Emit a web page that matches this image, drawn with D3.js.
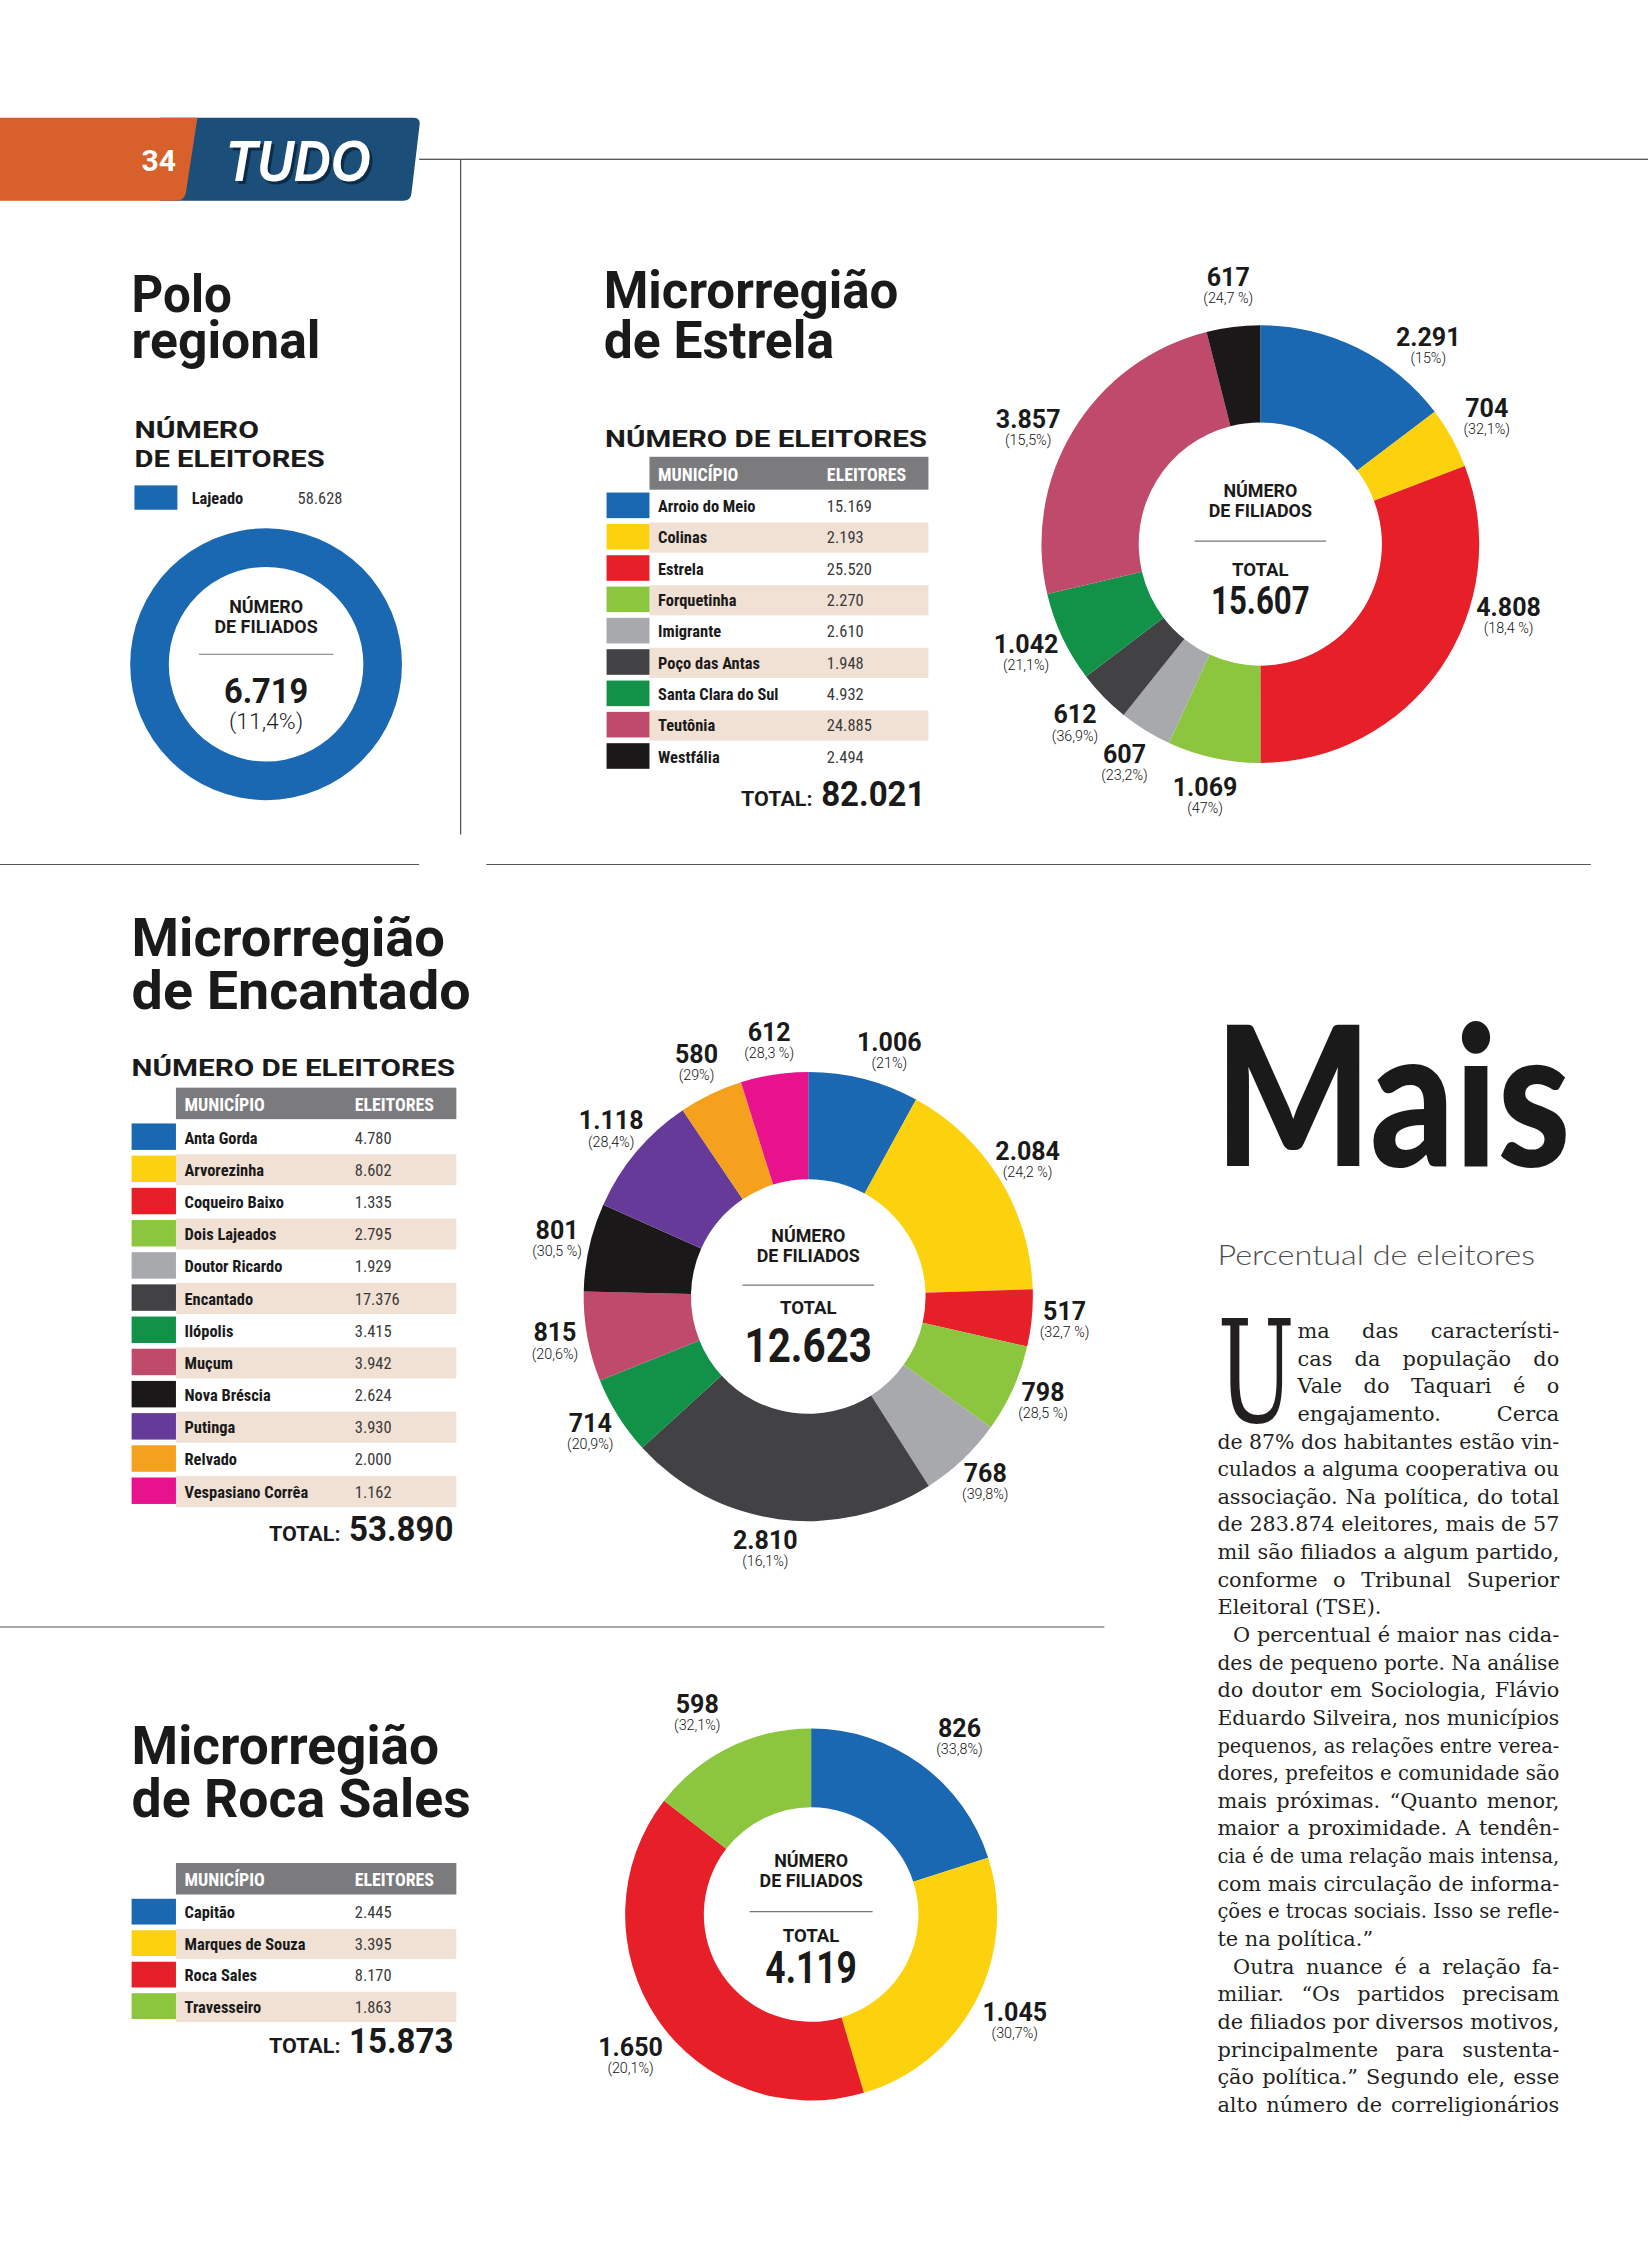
<!DOCTYPE html>
<html lang="pt-BR">
<head>
<meta charset="utf-8">
<title>Filiados - Vale do Taquari</title>
<script src="https://cdn.jsdelivr.net/npm/d3@7"></script>
<style>
  html, body { margin: 0; padding: 0; background: #fff; }
  svg { display: block; }
</style>
</head>
<body>
<svg id="page"></svg>
<script>
// dados
const poloMunicipios = ["Lajeado"];
const poloEleitores = [58628];
const poloFiliados = [6719];
const poloPct = ["11,4%"];

const estrelaMunicipios = ["Arroio do Meio", "Colinas", "Estrela", "Forquetinha", "Imigrante",
  "Poço das Antas", "Santa Clara do Sul", "Teutônia", "Westfália"];
const estrelaEleitores = [15169, 2193, 25520, 2270, 2610, 1948, 4932, 24885, 2494];
const estrelaFiliados = [2291, 704, 4808, 1069, 607, 612, 1042, 3857, 617];
const estrelaPct = ["15%", "32,1%", "18,4 %", "47%", "23,2%", "36,9%", "21,1%", "15,5%", "24,7 %"];

const encantadoMunicipios = ["Anta Gorda", "Arvorezinha", "Coqueiro Baixo", "Dois Lajeados",
  "Doutor Ricardo", "Encantado", "Ilópolis", "Muçum", "Nova Bréscia", "Putinga", "Relvado",
  "Vespasiano Corrêa"];
const encantadoEleitores = [4780, 8602, 1335, 2795, 1929, 17376, 3415, 3942, 2624, 3930, 2000, 1162];
const encantadoFiliados = [1006, 2084, 517, 798, 768, 2810, 714, 815, 801, 1118, 580, 612];
const encantadoPct = ["21%", "24,2 %", "32,7 %", "28,5 %", "39,8%", "16,1%", "20,9%", "20,6%",
  "30,5 %", "28,4%", "29%", "28,3 %"];

const rocaMunicipios = ["Capitão", "Marques de Souza", "Roca Sales", "Travesseiro"];
const rocaEleitores = [2445, 3395, 8170, 1863];
const rocaFiliados = [826, 1045, 1650, 598];
const rocaPct = ["33,8%", "30,7%", "20,1%", "32,1%"];

const artigo = [
  ["ma das característi-", "cas da população do", "Vale do Taquari é o", "engajamento. Cerca",
   "de 87% dos habitantes estão vin-", "culados a alguma cooperativa ou",
   "associação. Na política, do total", "de 283.874 eleitores, mais de 57",
   "mil são filiados a algum partido,", "conforme o Tribunal Superior", "Eleitoral (TSE)."],
  ["O percentual é maior nas cida-", "des de pequeno porte. Na análise",
   "do doutor em Sociologia, Flávio", "Eduardo Silveira, nos municípios",
   "pequenos, as relações entre verea-", "dores, prefeitos e comunidade são",
   "mais próximas. “Quanto menor,", "maior a proximidade. A tendên-",
   "cia é de uma relação mais intensa,", "com mais circulação de informa-",
   "ções e trocas sociais. Isso se refle-", "te na política.”"],
  ["Outra nuance é a relação fa-", "miliar. “Os partidos precisam",
   "de filiados por diversos motivos,", "principalmente para sustenta-",
   "ção política.” Segundo ele, esse", "alto número de correligionários"]
];

// cores
const cor = {
  azul: "#1a67b2", amarelo: "#fcd20f", vermelho: "#e71f28", lima: "#8cc63f",
  prata: "#a8a9ad", grafite: "#424244", verde: "#119248", rosa: "#c04a6b",
  preto: "#1b1819", roxo: "#663a98", laranja: "#f6a11d", magenta: "#e8128c"
};
const estrelaCores = [cor.azul, cor.amarelo, cor.vermelho, cor.lima, cor.prata, cor.grafite, cor.verde, cor.rosa, cor.preto];
const encantadoCores = estrelaCores.concat([cor.roxo, cor.laranja, cor.magenta]);
const rocaCores = [cor.azul, cor.amarelo, cor.vermelho, cor.lima];

const SANS = "Roboto, 'Liberation Sans', sans-serif";
const NARROW = "'Liberation Sans Narrow', 'Roboto Condensed', Roboto, sans-serif";
const SERIF = "'DejaVu Serif', 'Liberation Serif', serif";

const fmt = d3.formatLocale({decimal: ",", thousands: ".", grouping: [3], currency: ["", ""]}).format(",d");

const W = 1152, H = 1568;
const svg = d3.select("#page")
  .attr("width", 1648).attr("height", 2244)
  .attr("viewBox", `0 0 ${W} ${H}`);

function txt(g, x, y, s, o = {}) {
  const t = g.append("text").attr("x", x).attr("y", y).text(s)
    .attr("font-family", o.family || SANS)
    .attr("font-size", o.size || 12)
    .attr("font-weight", o.weight || 400)
    .attr("fill", o.fill || "#1a1a1a");
  if (o.anchor) t.attr("text-anchor", o.anchor);
  if (o.style) t.attr("font-style", o.style);
  if (o.len) t.attr("textLength", o.len).attr("lengthAdjust", "spacingAndGlyphs");
  return t;
}

function rule(x1, y1, x2, y2, c) {
  svg.append("line").attr("x1", x1).attr("y1", y1).attr("x2", x2).attr("y2", y2)
    .attr("stroke", c || "#333").attr("stroke-width", 0.8);
}

// cabeçalho da página
svg.append("path").attr("d", "M112,82 H289 Q294,82 293.3,87 L287.6,135 Q287,140 282,140 H112 Z").attr("fill", "#1b4e79");
svg.append("path").attr("d", "M0,82 H138 L130,134 Q129,140 123,140 H0 Z").attr("fill", "#d8602a");
txt(svg, 111, 119, "34", {size: 21, weight: 700, fill: "#fff", anchor: "middle"});
const tudo = svg.append("g");
txt(tudo, 160, 128, "TUDO", {size: 40, weight: 900, style: "italic", fill: "#0c2b46", len: 101, family: "'Liberation Sans', sans-serif"});
txt(tudo, 158, 126, "TUDO", {size: 40, weight: 900, style: "italic", fill: "#fff", len: 101, family: "'Liberation Sans', sans-serif"});

rule(293, 111, W, 111, "#222");
rule(322, 111, 322, 583, "#444");
rule(0, 604, 293, 604, "#555");
rule(340, 604, 1112, 604, "#555");
rule(0, 1137, 772, 1137, "#555");

function title(x, y1, y2, l1, l2, size, len1, len2) {
  txt(svg, x, y1, l1, {size: size, weight: 700, len: len1});
  txt(svg, x, y2, l2, {size: size, weight: 700, len: len2});
}

function drawTable(cfg, names, values, color) {
  const g = svg.append("g");
  const y = d3.scaleBand().domain(names).range([cfg.rowY, cfg.rowY + names.length * cfg.pitch]);
  g.append("rect").attr("x", cfg.x0).attr("y", cfg.headY).attr("width", cfg.x1 - cfg.x0)
    .attr("height", cfg.headH).attr("fill", "#7b7b7e");
  txt(g, cfg.x0 + 6, cfg.headY + cfg.headH - 6, "MUNICÍPIO", {size: cfg.font + 1, weight: 700, fill: "#fff", family: NARROW});
  txt(g, cfg.valX, cfg.headY + cfg.headH - 6, "ELEITORES", {size: cfg.font + 1, weight: 700, fill: "#fff", family: NARROW});

  const rows = g.selectAll("g.row").data(names).join("g").attr("class", "row")
    .attr("transform", d => `translate(0,${y(d)})`);
  rows.filter((d, i) => i % 2 === 1).append("rect")
    .attr("x", cfg.x0).attr("y", 0).attr("width", cfg.x1 - cfg.x0)
    .attr("height", cfg.pitch - 0.8).attr("fill", "#f1e1d5");
  rows.append("rect").attr("x", cfg.swX).attr("y", 1)
    .attr("width", cfg.x0 - cfg.swX).attr("height", cfg.pitch - 4)
    .attr("fill", d => color(d));
  rows.append("text").attr("x", cfg.x0 + 6).attr("y", cfg.pitch * 0.67)
    .attr("font-family", NARROW).attr("font-size", cfg.font).attr("font-weight", 700)
    .attr("fill", "#1a1a1a").text(d => d);
  rows.append("text").attr("x", cfg.valX).attr("y", cfg.pitch * 0.67)
    .attr("font-family", NARROW).attr("font-size", cfg.font).attr("font-weight", 400)
    .attr("fill", "#3a3a3a").text((d, i) => fmt(values[i]));

  txt(g, cfg.x1 - 2, cfg.totalY, fmt(d3.sum(values)), {size: 25, weight: 700, anchor: "end", len: 73});
  txt(g, cfg.x1 - 81, cfg.totalY, "TOTAL:", {size: 14, weight: 700, anchor: "end", len: 50});
}

function drawDonut(cfg, names, values, pcts, color) {
  const g = svg.append("g").attr("transform", `translate(${cfg.cx},${cfg.cy})`);
  const pie = d3.pie().sort(null).value(d => d.v);
  const arcs = pie(names.map((n, i) => ({n: n, v: values[i], p: pcts[i]})));
  const arc = d3.arc().innerRadius(cfg.rInner).outerRadius(cfg.rOuter);
  g.selectAll("path").data(arcs).join("path").attr("d", arc).attr("fill", d => color(d.data.n));

  if (cfg.labelR) {
    const lab = g.selectAll("g.lab").data(arcs).join("g").attr("class", "lab")
      .attr("transform", (d, i) => {
        const a = (d.startAngle + d.endAngle) / 2 + (cfg.nudge[i] || 0) * Math.PI / 180;
        return `translate(${cfg.labelR * Math.sin(a)},${-cfg.labelR * Math.cos(a)})`;
      });
    lab.append("text").attr("y", -1).attr("text-anchor", "middle")
      .attr("font-family", SANS).attr("font-size", 17.5).attr("font-weight", 700).attr("fill", "#1a1a1a")
      .text(d => fmt(d.data.v));
    lab.append("text").attr("y", 11).attr("text-anchor", "middle")
      .attr("font-family", SANS).attr("font-size", 10).attr("font-weight", 300).attr("fill", "#111")
      .text(d => "(" + d.data.p + ")");
  }

  const c = cfg.center;
  txt(g, 0, c.num, "NÚMERO", {size: 12.5, weight: 700, anchor: "middle"});
  txt(g, 0, c.num + 14, "DE FILIADOS", {size: 12.5, weight: 700, anchor: "middle"});
  rule(cfg.cx - c.half, cfg.cy + c.line, cfg.cx + c.half, cfg.cy + c.line, "#777");
  if (c.total !== undefined) txt(g, 0, c.total, "TOTAL", {size: 13, weight: 700, anchor: "middle"});
  txt(g, 0, c.big, fmt(d3.sum(values)), {size: c.bigSize, weight: 700, anchor: "middle", len: c.bigLen});
  if (c.pct) txt(g, 0, c.pct, "(" + pcts[0] + ")", {size: 16, weight: 300, anchor: "middle", fill: "#222"});
}

// Polo regional
title(92, 218, 250, "Polo", "regional", 36, 70, 132);
txt(svg, 94, 306, "NÚMERO", {size: 17, weight: 700, len: 87});
txt(svg, 94, 326, "DE ELEITORES", {size: 17, weight: 700, len: 133});
const poloCor = d3.scaleOrdinal(poloMunicipios, [cor.azul]);
svg.append("rect").attr("x", 94).attr("y", 339).attr("width", 30).attr("height", 17).attr("fill", poloCor(poloMunicipios[0]));
txt(svg, 134, 352, poloMunicipios[0], {size: 11.5, weight: 700, family: NARROW});
txt(svg, 208, 352, fmt(poloEleitores[0]), {size: 11.5, weight: 400, family: NARROW, fill: "#3a3a3a"});
drawDonut({cx: 186, cy: 464, rOuter: 95, rInner: 68,
  center: {num: -36, line: -7, half: 47, big: 27, bigSize: 25, bigLen: 59, pct: 45}},
  poloMunicipios, poloFiliados, poloPct, poloCor);

// Microrregião de Estrela
title(422, 215, 250, "Microrregião", "de Estrela", 36, 206, 161);
txt(svg, 423, 312, "NÚMERO DE ELEITORES", {size: 17, weight: 700, len: 225});
const estrelaCor = d3.scaleOrdinal(estrelaMunicipios, estrelaCores);
drawTable({swX: 424, x0: 454, x1: 649, valX: 578, headY: 319, headH: 23, rowY: 343, pitch: 21.9, font: 11.5, totalY: 563},
  estrelaMunicipios, estrelaEleitores, estrelaCor);
drawDonut({cx: 881, cy: 380, rOuter: 153, rInner: 85, labelR: 181, nudge: {0: 14, 2: -18, 7: -5},
  center: {num: -33, line: -2, half: 46, total: 22, big: 49, bigSize: 27, bigLen: 69}},
  estrelaMunicipios, estrelaFiliados, estrelaPct, estrelaCor);

// Microrregião de Encantado
title(92, 668, 705, "Microrregião", "de Encantado", 38, 219, 237);
txt(svg, 92, 752, "NÚMERO DE ELEITORES", {size: 17, weight: 700, len: 226});
const encantadoCor = d3.scaleOrdinal(encantadoMunicipios, encantadoCores);
drawTable({swX: 92, x0: 123, x1: 319, valX: 248, headY: 760, headH: 22, rowY: 784, pitch: 22.5, font: 11.5, totalY: 1077},
  encantadoMunicipios, encantadoEleitores, encantadoCor);
drawDonut({cx: 565, cy: 906, rOuter: 157, rInner: 82, labelR: 180, nudge: {0: 4, 5: 2},
  center: {num: -38, line: -8, half: 46, total: 12, big: 46, bigSize: 33, bigLen: 89}},
  encantadoMunicipios, encantadoFiliados, encantadoPct, encantadoCor);

// Microrregião de Roca Sales
title(92, 1233, 1270, "Microrregião", "de Roca Sales", 38, 215, 237);
const rocaCor = d3.scaleOrdinal(rocaMunicipios, rocaCores);
drawTable({swX: 92, x0: 123, x1: 319, valX: 248, headY: 1302, headH: 22, rowY: 1326, pitch: 22, font: 11.5, totalY: 1435},
  rocaMunicipios, rocaEleitores, rocaCor);
drawDonut({cx: 567, cy: 1338, rOuter: 130, rInner: 75, labelR: 161, nudge: {0: 4, 2: -4, 3: -3.5},
  center: {num: -33, line: -2, half: 43, total: 19, big: 48, bigSize: 31, bigLen: 64}},
  rocaMunicipios, rocaFiliados, rocaPct, rocaCor);

// texto da matéria
txt(svg, 849, 815, "Mais", {size: 136, weight: 900, family: "Lato, 'Open Sans', sans-serif", len: 249});
txt(svg, 851, 884, "Percentual de eleitores", {size: 19, weight: 300, family: "Lato, 'Open Sans', sans-serif", fill: "#4d4d4d", len: 222});
txt(svg, 851, 994, "U", {size: 100, weight: 400, family: SERIF, fill: "#231f20", len: 54});

const corpo = svg.append("g");
const colL = 851, colR = 1090, base0 = 935, lh = 19.32;
let linha = 0;
artigo.forEach((par, pi) => {
  par.forEach((s, li) => {
    let x0 = colL;
    if (pi === 0 && li < 4) x0 = 907;
    else if (li === 0) x0 = colL + 11;
    const t = txt(corpo, x0, base0 + linha * lh, s, {size: 14.6, family: SERIF, fill: "#231f20"});
    const ultima = li === par.length - 1 && pi < artigo.length - 1;
    const w = t.node().getComputedTextLength();
    const alvo = colR - x0;
    const gaps = (s.match(/ /g) || []).length;
    if (w > alvo) {
      t.attr("textLength", alvo).attr("lengthAdjust", "spacingAndGlyphs");
    } else if (!ultima && gaps) {
      t.style("word-spacing", ((alvo - w) / gaps) + "px");
    }
    linha++;
  });
});
</script>
</body>
</html>
